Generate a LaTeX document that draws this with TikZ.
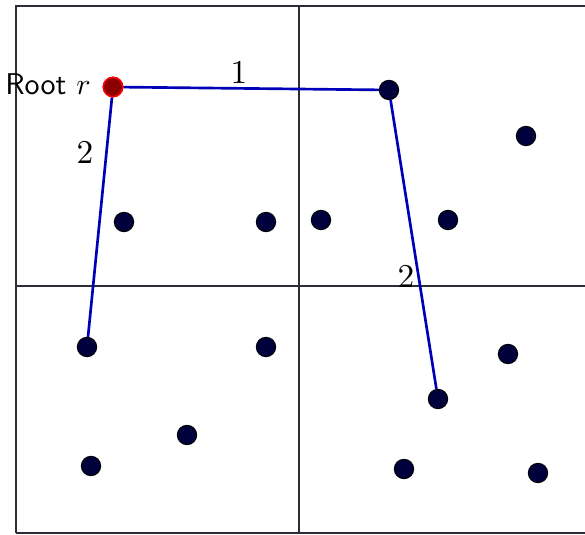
\documentclass[tikz,border=0pt]{standalone}
\begin{document}
\begin{tikzpicture}[x=0.3pt,y=-0.3pt,
  grid/.style={draw={rgb,255:red,45;green,45;blue,55}, line width=0.45pt},
  pt/.style={circle, draw=black, fill={rgb,255:red,0;green,0;blue,60}, inner sep=0pt, minimum size=5.8pt, line width=0.3pt},
  rootpt/.style={circle, draw=red, fill={rgb,255:red,140;green,0;blue,0}, inner sep=0pt, minimum size=5.8pt, line width=0.45pt},
  edge/.style={draw={rgb,255:red,0;green,0;blue,185}, line width=0.8pt},
  lab/.style={inner sep=0pt, font=\normalsize}]
\useasboundingbox (0,0) rectangle (585,535);
% grid
\draw[grid] (16,533) -- (16,6) -- (590,6);
\draw[grid] (16,533) -- (590,533);
\draw[grid] (299,6) -- (299,533);
\draw[grid] (16,286) -- (590,286);
% points
\node[pt] (a) at (389,90) {};
\node[pt] (b) at (526,136) {};
\node[pt] (c) at (124,222) {};
\node[pt] (d) at (266,222) {};
\node[pt] (e) at (321,220) {};
\node[pt] (f) at (448,220) {};
\node[pt] (g) at (87,347) {};
\node[pt] (h) at (266,347) {};
\node[pt] (i) at (508,354) {};
\node[pt] (j) at (438,399) {};
\node[pt] (k) at (187,435) {};
\node[pt] (l) at (91,466) {};
\node[pt] (m) at (404,469) {};
\node[pt] (n) at (538,473) {};
% edges
\node[rootpt] (root) at (113,87) {};
\draw[edge] (root) -- (a);
\draw[edge] (root) -- (g);
\draw[edge] (a) -- (j);
\node[rootpt] at (113,87) {};
% labels
\node[lab, scale=0.9] (rl) at (48,84) {\textsf{Root} $r$};
\node[lab] (l1) at (239,73) {$1$};
\node[lab] (l2) at (85,153) {$2$};
\node[lab] (l3) at (406,277) {$2$};
\end{tikzpicture}
\end{document}
